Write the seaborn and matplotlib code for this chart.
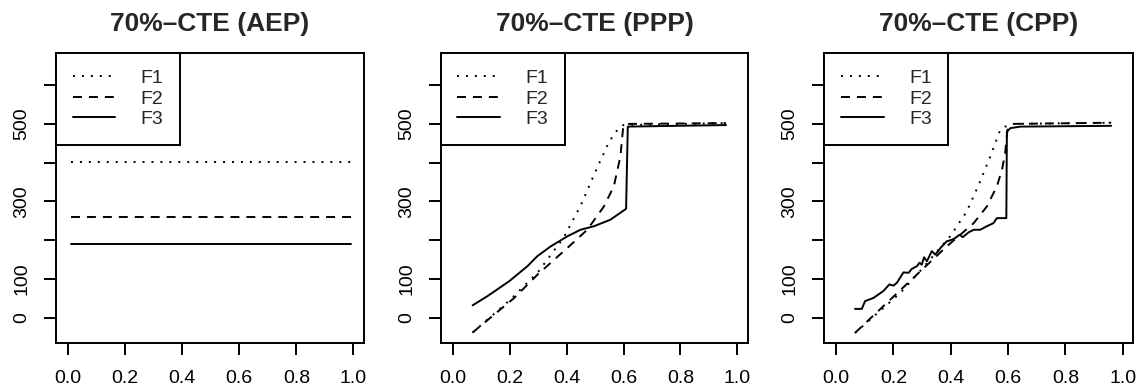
import pandas as pd
import matplotlib
matplotlib.use("Agg")
import matplotlib.pyplot as plt
import seaborn as sns

# panel titles
PANELS = ["AEP", "PPP", "CPP"]
SERIES = ["F1", "F2", "F3"]

# AEP: flat lines
aep_x = [0.01, 0.99]
aep_f1 = [403, 403]
aep_f2 = [260, 260]
aep_f3 = [190, 190]

# PPP
ppp_f1_x = [0.07, 0.20, 0.30, 0.39, 0.45, 0.50, 0.55, 0.583, 0.60, 0.96]
ppp_f1_y = [-38, 45, 118, 207, 290, 375, 455, 489, 497, 502]
ppp_f2_x = [0.07, 0.216, 0.2975, 0.4026, 0.4726, 0.531, 0.566, 0.589, 0.599, 0.62, 0.96]
ppp_f2_y = [-38, 51, 111, 180, 227, 287, 339, 416, 493, 500, 502]
ppp_f3_x = [0.07, 0.1225, 0.198, 0.2625, 0.2975, 0.344, 0.4026, 0.449, 0.496, 0.554, 0.609, 0.615, 0.96]
ppp_f3_y = [32, 56, 94, 133, 159, 184, 210, 227, 236, 253, 281, 493, 497]

# CPP
cpp_f1_x = [0.066, 0.224, 0.282, 0.398, 0.456, 0.50, 0.538, 0.573, 0.59, 0.62, 0.96]
cpp_f1_y = [-39, 64, 111, 210, 274, 347, 416, 485, 493, 500, 503]
cpp_f2_x = [0.066, 0.386, 0.48, 0.526, 0.561, 0.579, 0.59, 0.598, 0.62, 0.96]
cpp_f2_y = [-39, 184, 244, 287, 339, 382, 425, 485, 500, 503]
cpp_f3_x = [0.066, 0.09, 0.101, 0.13, 0.165, 0.186, 0.20, 0.212, 0.235, 0.253, 0.264,
            0.282, 0.291, 0.299, 0.307, 0.317, 0.334, 0.346, 0.369, 0.386, 0.41,
            0.431, 0.442, 0.462, 0.48, 0.503, 0.526, 0.549, 0.561, 0.584, 0.594,
            0.596, 0.608, 0.643, 0.96]
cpp_f3_y = [23, 23, 43, 51, 69, 86, 83, 90, 117, 116, 126,
            133, 142, 137, 156, 146, 172, 163, 184, 197, 203,
            214, 208, 220, 227, 227, 236, 244, 257, 257, 257,
            480, 489, 493, 495]

X_TICKS = [0.0, 0.2, 0.4, 0.6, 0.8, 1.0]
Y_TICKS = [0, 100, 200, 300, 400, 500, 600]
Y_TICK_LABELS = ["0", "100", "", "300", "", "500", ""]

DATA = {
    "AEP": [(aep_x, aep_f1), (aep_x, aep_f2), (aep_x, aep_f3)],
    "PPP": [(ppp_f1_x, ppp_f1_y), (ppp_f2_x, ppp_f2_y), (ppp_f3_x, ppp_f3_y)],
    "CPP": [(cpp_f1_x, cpp_f1_y), (cpp_f2_x, cpp_f2_y), (cpp_f3_x, cpp_f3_y)],
}

rows = []
for panel in PANELS:
    for name, (xs, ys) in zip(SERIES, DATA[panel]):
        for xv, yv in zip(xs, ys):
            rows.append({"panel": panel, "series": name, "x": xv, "y": yv})
df = pd.DataFrame(rows)

sns.set_theme(style="ticks")
plt.rcParams["font.family"] = ["Liberation Sans", "DejaVu Sans"]
plt.rcParams["axes.edgecolor"] = "black"
plt.rcParams["axes.linewidth"] = 1.4

LW = 1.4
DASHES = {"F1": (1, 3.6), "F2": (4.6, 3.6), "F3": ""}

fig = plt.figure(figsize=(11.43, 3.92), dpi=100)
lefts = [0.049, 0.3858, 0.7212]
widths = [0.2695, 0.2686, 0.2703]

for i, panel in enumerate(PANELS):
    ax = fig.add_axes([lefts[i], 0.125, widths[i], 0.74])
    sub = df[df["panel"] == panel]
    sns.lineplot(data=sub, x="x", y="y", style="series", style_order=SERIES,
                 dashes=DASHES, color="black", linewidth=LW,
                 estimator=None, sort=False, ax=ax)
    ax.set_xlim(-0.041, 1.037)
    ax.set_ylim(-65, 683)
    ax.set_xticks(X_TICKS)
    ax.set_xticklabels([f"{t:.1f}" for t in X_TICKS])
    ax.set_yticks(Y_TICKS)
    ax.set_yticklabels(Y_TICK_LABELS, rotation=90, va="center")
    ax.tick_params(axis="both", direction="out", length=8.6, width=LW,
                   labelsize=14, colors="black")
    ax.tick_params(axis="x", pad=11)
    ax.tick_params(axis="y", pad=10)
    ax.set_xlabel("")
    ax.set_ylabel("")
    ax.set_title(f"70%\u2013CTE ({panel})", fontsize=19, fontweight="bold", pad=16)
    for s in ax.spines.values():
        s.set_linewidth(LW)
        s.set_color("black")
    handles, labels = ax.get_legend_handles_labels()
    leg = ax.legend(handles, labels, loc="upper left", borderaxespad=0,
                    fancybox=False, frameon=True, edgecolor="black", framealpha=1,
                    fontsize=14, handlelength=2.2, handletextpad=1.3,
                    borderpad=0.85, labelspacing=0.15)
    leg.get_frame().set_linewidth(LW)
    for h in leg.get_lines():
        h.set_linewidth(LW)
        h.set_color("black")

fig.savefig("out.png", dpi=100)
